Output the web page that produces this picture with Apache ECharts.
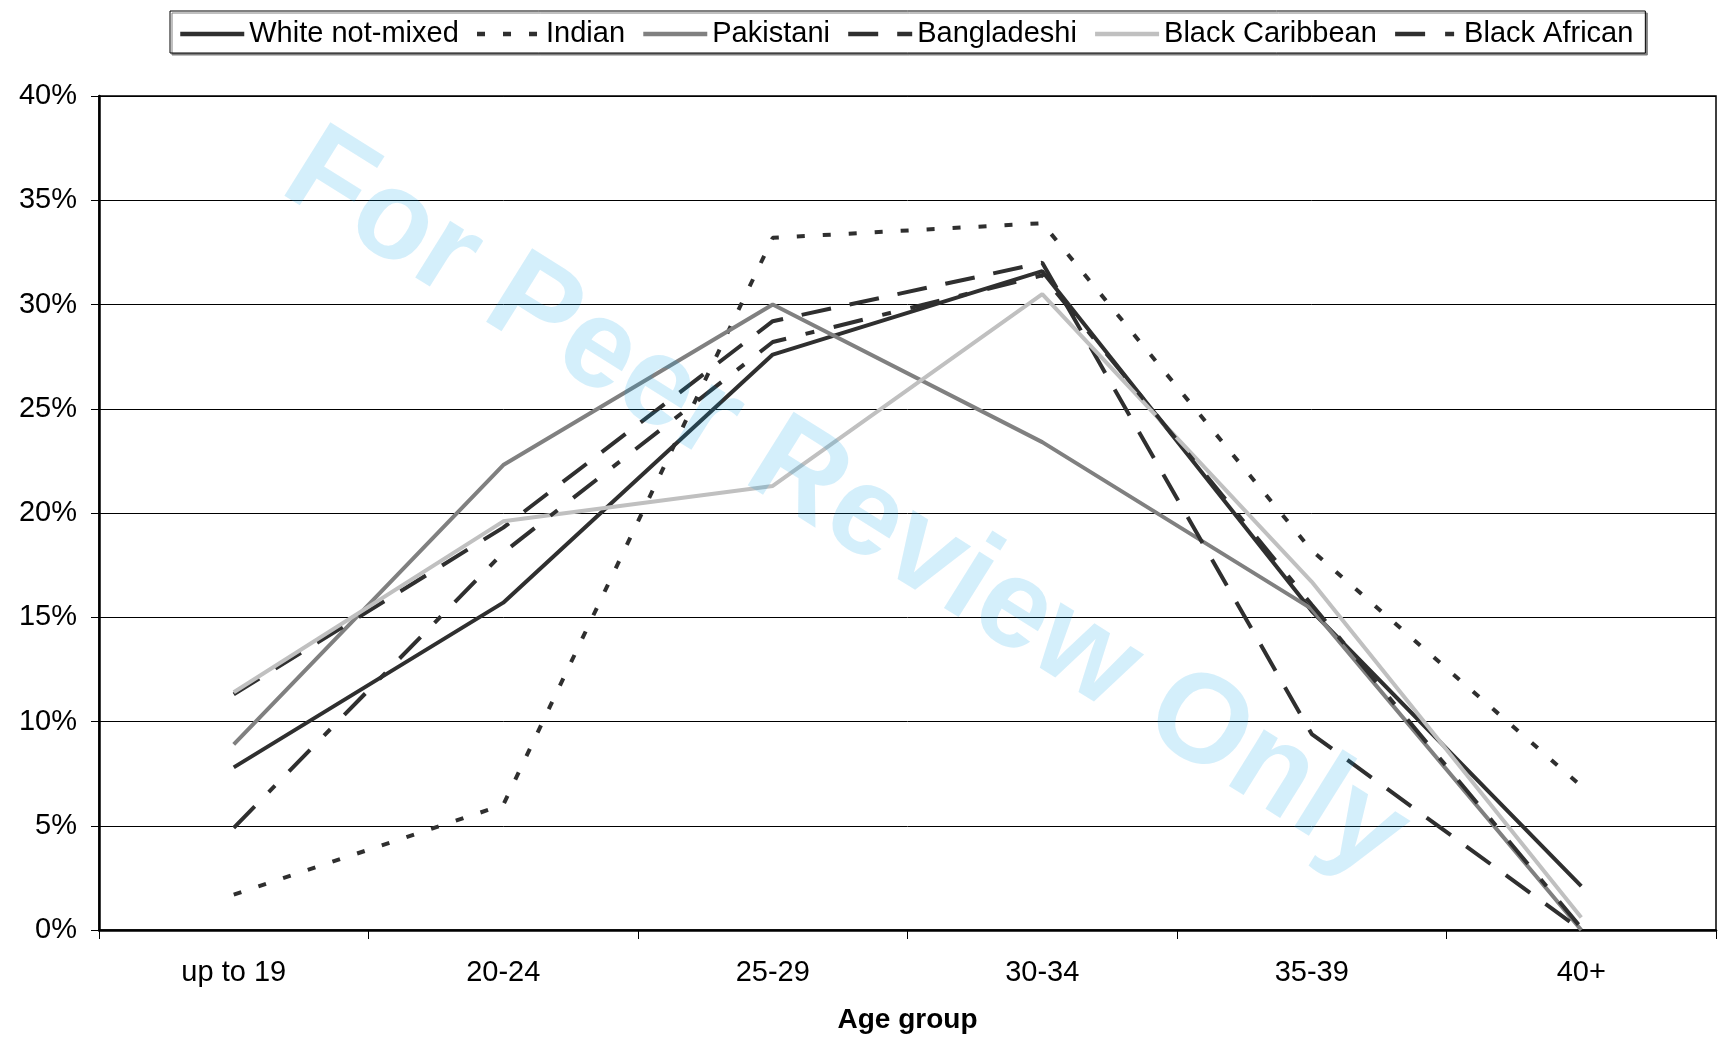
<!DOCTYPE html>
<html>
<head>
<meta charset="utf-8">
<script src="https://cdn.jsdelivr.net/npm/echarts@6/dist/echarts.min.js"></script>
<style>
  html,body{margin:0;padding:0;background:#fff}
  #main{width:1720px;height:1040px}
</style>
</head>
<body>
<div id="main"></div>
<script>
// age groups on the x axis
var ageGroups = ['up to 19', '20-24', '25-29', '30-34', '35-39', '40+']

// share of each group in each age band, in percent
var whiteNotMixed = [7.8, 15.7, 27.6, 31.6, 15.3, 2.1]
var indian = [1.7, 6.0, 33.2, 33.9, 18.2, 6.9]
var pakistani = [8.9, 22.3, 30.0, 23.4, 15.4, 0.0]
var bangladeshi = [11.3, 19.3, 29.2, 32.0, 9.4, 0.0]
var blackCaribbean = [11.4, 19.6, 21.3, 30.5, 16.7, 0.6]
var blackAfrican = [4.9, 18.1, 28.2, 31.4, 15.6, 0.1]

var font = '"Liberation Sans", Arial, Helvetica, sans-serif'

function makeLine(name, data, color, type) {
  return {
    name: name,
    type: 'line',
    data: data,
    symbol: 'none',
    animation: false,
    lineStyle: {
      color: color,
      width: 4,
      type: type,
      cap: 'butt'
    },
    itemStyle: { color: color }
  }
}

var chart = echarts.init(document.getElementById('main'), null, { renderer: 'canvas' })

var option = {
  backgroundColor: '#fff',
  animation: false,
  textStyle: { fontFamily: font },
  grid: {
    left: 99,
    right: 4,
    top: 96,
    bottom: 110,
    show: true,
    borderColor: '#000',
    borderWidth: 1.5
  },
  legend: {
    left: 170,
    top: 11,
    itemWidth: 64,
    itemHeight: 14,
    itemGap: 16,
    padding: [8, 12, 4, 8],
    borderColor: '#000',
    borderWidth: 1,
    backgroundColor: '#fff',
    shadowColor: '#808080',
    shadowOffsetX: 2,
    shadowOffsetY: 2,
    shadowBlur: 0,
    itemStyle: { opacity: 0 },
    lineStyle: { width: 4.5 },
    textStyle: { fontFamily: font, fontSize: 29, color: '#000', lineHeight: 30 }
  },
  xAxis: {
    type: 'category',
    data: ageGroups,
    boundaryGap: true,
    name: 'Age group',
    nameLocation: 'middle',
    nameGap: 76,
    nameTextStyle: { fontFamily: font, fontSize: 28, fontWeight: 'bold', color: '#000' },
    axisLine: { lineStyle: { color: '#000', width: 2.5 } },
    axisTick: { show: true, alignWithLabel: false, length: 9, lineStyle: { color: '#000', width: 1 } },
    axisLabel: { fontFamily: font, fontSize: 29, color: '#000', margin: 28, interval: 0 },
    splitLine: { show: false }
  },
  yAxis: {
    type: 'value',
    min: 0,
    max: 40,
    interval: 5,
    axisLine: { show: true, lineStyle: { color: '#000', width: 2.5 } },
    axisTick: { show: true, length: 8, lineStyle: { color: '#000', width: 1 } },
    axisLabel: { fontFamily: font, fontSize: 29, color: '#000', margin: 22, formatter: '{value}%' },
    splitLine: { show: true, lineStyle: { color: '#000', width: 1 } }
  },
  graphic: [
    {
      type: 'text',
      x: 845,
      y: 505,
      rotation: -32 * Math.PI / 180,
      z: 100,
      silent: true,
      style: {
        text: 'For Peer Review Only',
        x: 0,
        y: 0,
        align: 'center',
        verticalAlign: 'middle',
        font: 'bold 126px ' + font,
        fill: 'rgba(0,160,230,0.17)'
      }
    }
  ],
  series: [
    makeLine('White not-mixed', whiteNotMixed, '#2f2f2f', 'solid'),
    makeLine('Indian', indian, '#2f2f2f', [8, 18]),
    makeLine('Pakistani', pakistani, '#808080', 'solid'),
    makeLine('Bangladeshi', bangladeshi, '#2f2f2f', [30, 19]),
    makeLine('Black Caribbean', blackCaribbean, '#c0c0c0', 'solid'),
    makeLine('Black African', blackAfrican, '#2f2f2f', [30, 20, 9, 20])
  ]
}

chart.setOption(option)
</script>
</body>
</html>
